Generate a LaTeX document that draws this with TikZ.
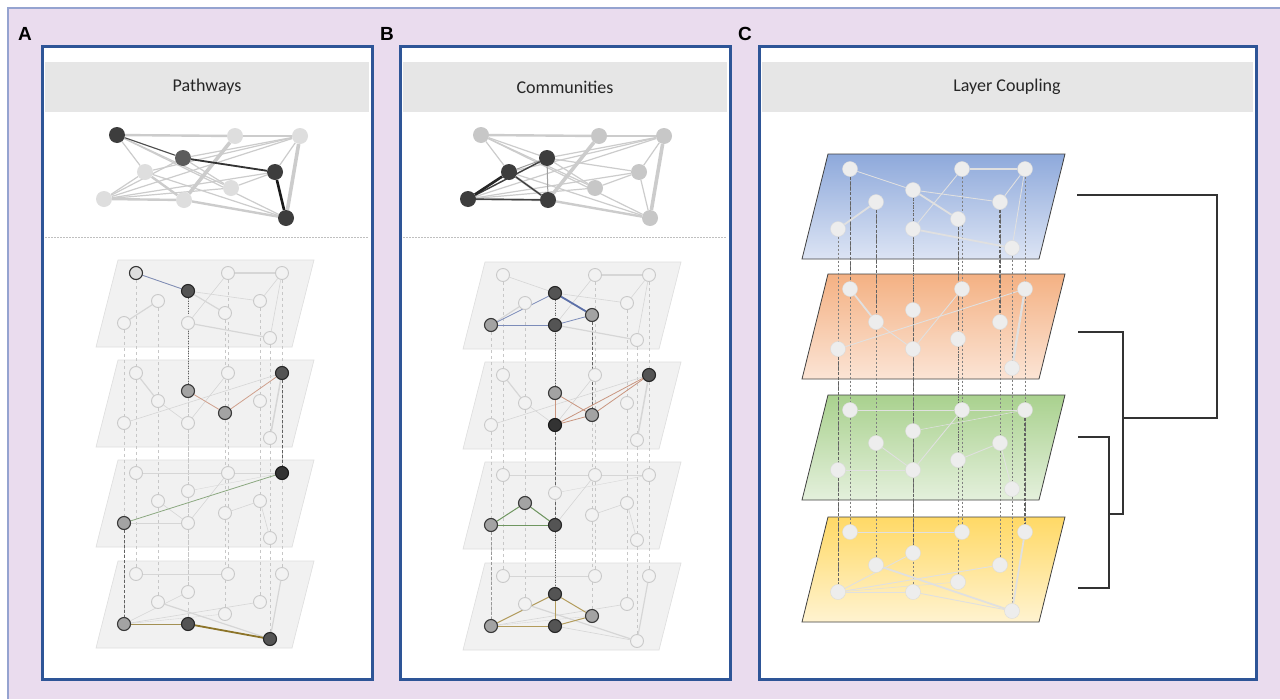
\documentclass[tikz,border=0pt]{standalone}
\usepackage{fontspec}
\setmainfont{Carlito}
\newfontfamily\letterfont{Liberation Sans}
\usetikzlibrary{calc}

\definecolor{framepink}{HTML}{EADCEE}
\definecolor{frameline}{HTML}{95A3D0}
\definecolor{panelblue}{HTML}{2E5597}
\definecolor{titlegray}{HTML}{E6E6E6}
\definecolor{layerfill}{HTML}{F1F1F1}
\definecolor{layerline}{HTML}{DEDEDE}
\definecolor{pathblue}{HTML}{7D8BB5}
\definecolor{pathred}{HTML}{CFA08C}
\definecolor{pathgreen}{HTML}{8BA880}
\definecolor{pathgold}{HTML}{8C7428}
\definecolor{commblue}{HTML}{5B6FA8}
\definecolor{commred}{HTML}{C9957F}
\definecolor{commgreen}{HTML}{6F9660}
\definecolor{commgold}{HTML}{B39C5C}
\definecolor{cblueA}{HTML}{8EA9DB}
\definecolor{cblueB}{HTML}{DCE4F4}
\definecolor{corangeA}{HTML}{F4B183}
\definecolor{corangeB}{HTML}{FBE4D5}
\definecolor{cgreenA}{HTML}{A9D18E}
\definecolor{cgreenB}{HTML}{E4F0DC}
\definecolor{cyellowA}{HTML}{FFD966}
\definecolor{cyellowB}{HTML}{FFF3D0}

\pgfdeclarelayer{back}
\pgfdeclarelayer{mid}
\pgfsetlayers{back,mid,main}

% node places: id/x/depth below the layer top
\def\posAB{1/136/13, 2/228/13, 3/282/13, 4/188/31, 5/158/41, 6/260/41, 7/225/53, 8/124/63, 9/188/63, 10/270/78}
\def\posC{1/850/15, 2/962/15, 3/1025/15, 4/913/36, 5/876/48, 6/1000/48, 7/958/65, 8/838/75, 9/913/75, 10/1012/94}
\def\posTop{1/117/135, 2/235/136, 3/300/136, 4/183/158, 5/145/172, 6/275/172, 7/231/188, 8/104/199, 9/184/200, 10/286/218}

% edges of each layer: from/to/weight
\def\edgesI{1/4/1, 2/3/2, 4/6/1, 4/7/2, 5/8/2, 3/10/1, 2/9/1, 9/10/2, 3/6/1}
\def\edgesII{1/5/2, 5/9/1, 3/8/1, 2/9/1, 3/10/2.5}
\def\edgesIII{8/9/1, 5/9/1, 2/9/1, 6/7/1, 6/10/1, 1/2/0.6, 3/4/0.6, 2/3/0.6}
\def\edgesIV{1/2/1, 4/8/1, 6/8/1, 8/9/1, 5/10/2, 9/10/1, 3/10/2, 7/8/0.6}
\def\edgesTop{1/2/2, 1/4/1, 1/5/1, 1/7/1, 1/10/1, 2/3/2, 2/9/3, 3/4/1, 3/5/1, 3/6/1, 3/8/1, 3/10/3, 4/6/1, 4/7/1, 4/8/1, 5/8/1, 5/9/2, 5/10/1, 6/7/1, 6/8/1, 6/10/1, 7/8/1, 8/9/2, 9/10/2}

\tikzset{
  panel/.style={draw=panelblue, line width=3pt, fill=white},
  titlebar/.style={fill=titlegray, minimum height=50pt, inner sep=0pt, font=\fontsize{18}{20}\selectfont, text=black!85},
  letter/.style={font=\letterfont\bfseries\fontsize{19}{20}\selectfont, inner sep=0pt},
  layerbox/.style={fill=layerfill, draw=layerline, line width=0.6pt},
  clayer/.style={draw=black!75, line width=0.8pt},
  lnode/.style={circle, draw=black!21, fill=black!5, line width=0.9pt, minimum size=13pt, inner sep=0pt},
  hdark/.style={fill=black!67, draw=black!85, line width=1.1pt},
  hblack/.style={fill=black!80, draw=black!90, line width=1.1pt},
  hmid/.style={fill=black!36, draw=black!78, line width=1.1pt},
  hwhite/.style={fill=black!13, draw=black!80, line width=1.1pt},
  tnodeA/.style={circle, fill=black!13, minimum size=16pt, inner sep=0pt},
  tnodeB/.style={circle, fill=black!22, minimum size=16pt, inner sep=0pt},
  tdark/.style={fill=black!76},
  tmid/.style={fill=black!64},
  cnode/.style={circle, fill=black!7, draw=black!14, line width=0.4pt, minimum size=15pt, inner sep=0pt},
  ledge/.style={draw=black!16, line width=#1*0.6pt},
  tedge/.style={draw=black!20, line width=#1*1.2pt},
  cedge/.style={draw=black!12, line width=#1*0.9pt},
  idash/.style={draw=black!22, line width=0.6pt, dash pattern=on 3pt off 3pt},
  ddash/.style={draw=black!62, line width=0.9pt, dash pattern=on 3pt off 2pt},
  ddot/.style={draw=black!62, line width=0.9pt, dash pattern=on 1pt off 1.5pt},
  cdash/.style={draw=black!50, line width=0.5pt, dash pattern=on 2pt off 2pt},
  sepline/.style={draw=black!25, line width=0.6pt, dash pattern=on 1.5pt off 1.5pt},
  dendro/.style={draw=black!80, line width=1.3pt},
  % highlighted nodes
  nst/At-1/.style=tdark, nst/At-4/.style=tmid, nst/At-6/.style=tdark, nst/At-10/.style=tdark,
  nst/Bt-4/.style=tdark, nst/Bt-5/.style=tdark, nst/Bt-8/.style=tdark, nst/Bt-9/.style=tdark,
  nst/A1-1/.style=hwhite, nst/A1-4/.style=hdark,
  nst/A2-4/.style=hmid, nst/A2-7/.style=hmid, nst/A2-3/.style=hdark,
  nst/A3-8/.style=hmid, nst/A3-3/.style=hblack,
  nst/A4-8/.style=hmid, nst/A4-9/.style=hdark, nst/A4-10/.style=hdark,
  nst/B1-4/.style=hdark, nst/B1-8/.style=hmid, nst/B1-9/.style=hdark, nst/B1-7/.style=hmid,
  nst/B2-4/.style=hmid, nst/B2-9/.style=hblack, nst/B2-7/.style=hmid, nst/B2-3/.style=hdark,
  nst/B3-5/.style=hmid, nst/B3-8/.style=hmid, nst/B3-9/.style=hdark,
  nst/B4-4/.style=hdark, nst/B4-8/.style=hmid, nst/B4-9/.style=hdark, nst/B4-7/.style=hmid
}

\begin{document}
\begin{tikzpicture}[x=1pt, y=-1pt]
    \useasboundingbox (0,0) rectangle (1280,699);

    \begin{pgfonlayer}{back}
        % Frame
        \fill[framepink] (8,8) rectangle (1280,699);
        \draw[frameline, line width=1.2pt] (8,699) -- (8,8) -- (1280,8);

        % Panels
        \draw[panel] (42,46) rectangle (372,679);
        \draw[panel] (400,46) rectangle (730,679);
        \draw[panel] (759,46) rectangle (1256,679);
        \draw[sepline] (45,237) -- (369,237);
        \draw[sepline] (403,237) -- (727,237);

        % Grey layers
        \foreach \p/\dx/\dy in {A/0/0, B/367/2}
            \foreach \yo in {260,360,460,561}
                \draw[layerbox] ({118+\dx},{\yo+\dy}) -- ++(196,0) -- ++(-22,87) -- ++(-196,0) -- cycle;

        % Coloured layers
        \foreach \yo/\ca/\cb in {154/cblueA/cblueB, 274/corangeA/corangeB, 395/cgreenA/cgreenB, 517/cyellowA/cyellowB}
            \shadedraw[clayer, top color=\ca, bottom color=\cb] (828,\yo) -- ++(237,0) -- ++(-26,105) -- ++(-237,0) -- cycle;
    \end{pgfonlayer}

    % Titles
    \node[titlebar, minimum width=324pt] (tA) at (207,87) {Pathways};
    \node[titlebar, minimum width=324pt] (tB) at (565,87) {Communities};
    \node[titlebar, minimum width=491pt] (tC) at (1007,87) {Layer Coupling};
    \node[letter] (lA) at (25,34) {A};
    \node[letter] (lB) at (387,34) {B};
    \node[letter] (lC) at (745,34) {C};

    % Nodes
    \foreach \p/\dx in {A/0, B/364}
        \foreach \k/\px/\py in \posTop
            \node[tnode\p, nst/\p t-\k/.try] (\p t-\k) at ({\px+\dx},\py) {};
    \foreach \p/\dx/\dy in {A/0/0, B/367/2}
        \foreach \l/\yo in {1/260, 2/360, 3/460, 4/561}
            \foreach \k/\px/\py in \posAB
                \node[lnode, nst/\p\l-\k/.try] (\p\l-\k) at ({\px+\dx},{\yo+\dy+\py}) {};
    \foreach \l/\yo in {1/154, 2/274, 3/395, 4/517}
        \foreach \k/\px/\py in \posC
            \node[cnode] (C\l-\k) at (\px,{\yo+\py}) {};

    \begin{pgfonlayer}{mid}
        % Aggregated networks
        \foreach \p in {A,B}
            \foreach \a/\b/\w in \edgesTop
                \draw[tedge=\w] (\p t-\a) -- (\p t-\b);
        \draw[black!70, line width=1pt] (At-1) -- (At-4);
        \draw[black!80, line width=1.8pt] (At-4) -- (At-6);
        \draw[black!90, line width=2.6pt] (At-6) -- (At-10);
        \draw[gray!75, line width=1pt] (Bt-5) -- (Bt-4);
        \draw[gray!75, line width=1pt] (Bt-4) -- (Bt-9);
        \draw[black!75, line width=1.4pt] (Bt-8) -- (Bt-4);
        \draw[black!75, line width=1.4pt] (Bt-5) -- (Bt-9);
        \draw[black!75, line width=1.4pt] (Bt-8) -- (Bt-9);
        \draw[black!85, line width=2.6pt] (Bt-8) -- (Bt-5);

        % Inter-layer links
        \foreach \p in {A,B}
            \foreach \l/\m in {1/2,2/3,3/4}
                \foreach \k in {1,...,10}
                    \draw[idash] (\p\l-\k) -- (\p\m-\k);
        \foreach \l/\m in {1/2,2/3,3/4}
            \foreach \k in {1,...,10}
                \draw[cdash] (C\l-\k) -- (C\m-\k);
        \draw[ddot] (A1-4) -- (A2-4);
        \draw[ddash] (A2-3) -- (A3-3);
        \draw[ddash] (A3-8) -- (A4-8);
        \draw[ddot] (B1-4) -- (B2-4);
        \draw[ddash] (B1-7) -- (B2-7);
        \draw[ddash] (B2-9) -- (B3-9);
        \draw[ddot] (B3-9) -- (B4-9);
        \draw[ddash, black!40] (B3-8) -- (B4-8);
        \foreach \k in {1,5,7}
            \draw[ddash] (C1-\k) -- (C2-\k);
        \draw[ddash, line width=1.6pt] (C1-6) -- (C2-6);
        \draw[ddot] (C1-4) -- (C2-4);
        \foreach \k in {8,4}
            \draw[ddash] (C2-\k) -- (C3-\k);
        \draw[ddot] (C2-7) -- (C3-7);
        \foreach \k in {8,4}
            \draw[ddash] (C3-\k) -- (C4-\k);
        \draw[ddash, line width=1.5pt] (C3-3) -- (C4-3);

        % Edges inside the layers
        \foreach \p/\q in {A/ledge, B/ledge, C/cedge}
        {
            \foreach \a/\b/\w in \edgesI
                \draw[\q=\w] (\p1-\a) -- (\p1-\b);
            \foreach \a/\b/\w in \edgesII
                \draw[\q=\w] (\p2-\a) -- (\p2-\b);
            \foreach \a/\b/\w in \edgesIII
                \draw[\q=\w] (\p3-\a) -- (\p3-\b);
            \foreach \a/\b/\w in \edgesIV
                \draw[\q=\w] (\p4-\a) -- (\p4-\b);
        }

        % Pathway
        \draw[pathblue, line width=0.8pt] (A1-1) -- (A1-4);
        \draw[pathred, line width=0.8pt] (A2-4) -- (A2-7) -- (A2-3);
        \draw[pathgreen, line width=0.8pt] (A3-8) -- (A3-3);
        \draw[pathgold!80, line width=1pt] (A4-8) -- (A4-9);
        \draw[pathgold, line width=1.8pt] (A4-9) -- (A4-10);

        % Communities
        \foreach \a/\b in {4/8, 8/9, 9/7}
            \draw[commblue!80, line width=0.8pt] (B1-\a) -- (B1-\b);
        \draw[commblue, line width=1.8pt] (B1-4) -- (B1-7);
        \foreach \a/\b in {4/9, 4/7, 9/7, 9/3, 7/3}
            \draw[commred, line width=0.8pt] (B2-\a) -- (B2-\b);
        \foreach \a/\b in {5/8, 5/9, 8/9}
            \draw[commgreen, line width=1pt] (B3-\a) -- (B3-\b);
        \foreach \a/\b in {8/4, 8/9, 4/9, 4/7, 9/7}
            \draw[commgold, line width=1pt] (B4-\a) -- (B4-\b);
    \end{pgfonlayer}

    % Dendrogram
    \coordinate (leaf1) at (1077,195);
    \coordinate (leaf2) at (1078,332);
    \coordinate (leaf3) at (1078,437);
    \coordinate (leaf4) at (1078,588);
    \coordinate (g34) at (1109,514);
    \coordinate (g234) at (1123,418);
    \coordinate (groot) at (1217,300);
    \draw[dendro] (leaf3) -| (g34) |- (leaf4);
    \draw[dendro] (leaf2) -| (g234) |- (g34);
    \draw[dendro] (leaf1) -| (groot) |- (g234);

\end{tikzpicture}
\end{document}
